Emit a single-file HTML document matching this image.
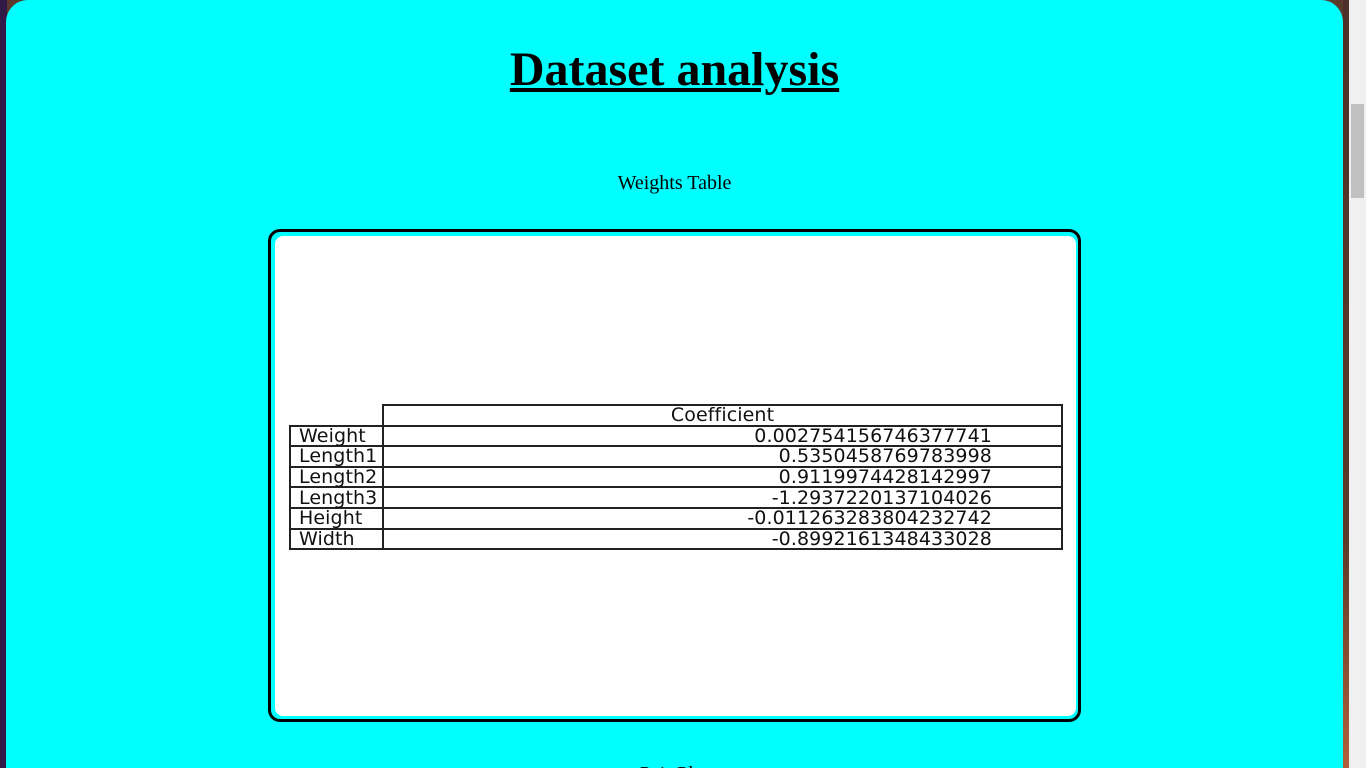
<!DOCTYPE html>
<html><head><meta charset="utf-8"><style>
html,body{margin:0;padding:0;width:1366px;height:768px;overflow:hidden;background:#5a3a2a;}
#left{position:absolute;left:0;top:0;width:7px;height:768px;background:#311a48;}
#bg{position:absolute;left:1343px;top:0;width:6px;height:768px;background:linear-gradient(#4e3028,#5a3a28 70%,#b0603a);}
#scroll{position:absolute;left:1349px;top:0;width:17px;height:768px;background:#f0f0f0;}
#thumb{position:absolute;left:2px;top:104px;width:13px;height:94px;background:#c1c1c1;}
#card{position:absolute;left:6px;top:0;width:1337px;height:768px;overflow:hidden;background:#00ffff;border-radius:22px 22px 0 0;}
h1{position:absolute;left:0;width:1337px;top:42px;margin:0;text-align:center;font:bold 48px "Liberation Serif",serif;text-decoration:underline;line-height:56px;}
.cap{position:absolute;left:0;width:1337px;text-align:center;font:20px "Liberation Serif",serif;}
#frame{position:absolute;left:262px;top:229px;width:807px;height:487px;border:3px solid #000;border-radius:12px;}
#img{position:absolute;left:275px;top:236px;width:801px;height:480px;background:#fff;border-radius:8px;}
table{position:absolute;border-collapse:collapse;table-layout:fixed;font:19px "DejaVu Sans",sans-serif;color:#111;letter-spacing:0.1px;}
tr{height:20.6px;}
td{border:2px solid #222;padding:0 8px;line-height:16px;white-space:nowrap;overflow:visible;}
</style></head><body>
<div id="left"></div>
<div id="bg"></div>
<div id="scroll"><div id="thumb"></div></div>
<div id="card">
<h1>Dataset analysis</h1>
<div class="cap" style="top:172px">Weights Table</div>
<div id="frame"></div>
<div class="cap" style="top:763px">Pair Plot</div>
</div>
<div id="img">
<table style="left:14px;top:168px;width:774px">
<colgroup><col style="width:93px"><col></colgroup>
<tr><td style="border:none;border-bottom:2px solid #222"></td><td style="text-align:center">Coefficient</td></tr>
<tr><td>Weight</td><td style="text-align:right;padding-right:69px">0.002754156746377741</td></tr>
<tr><td>Length1</td><td style="text-align:right;padding-right:69px">0.5350458769783998</td></tr>
<tr><td>Length2</td><td style="text-align:right;padding-right:69px">0.9119974428142997</td></tr>
<tr><td>Length3</td><td style="text-align:right;padding-right:69px">-1.2937220137104026</td></tr>
<tr><td>Height</td><td style="text-align:right;padding-right:69px">-0.011263283804232742</td></tr>
<tr><td>Width</td><td style="text-align:right;padding-right:69px">-0.8992161348433028</td></tr>
</table>
</div>
</body></html>
